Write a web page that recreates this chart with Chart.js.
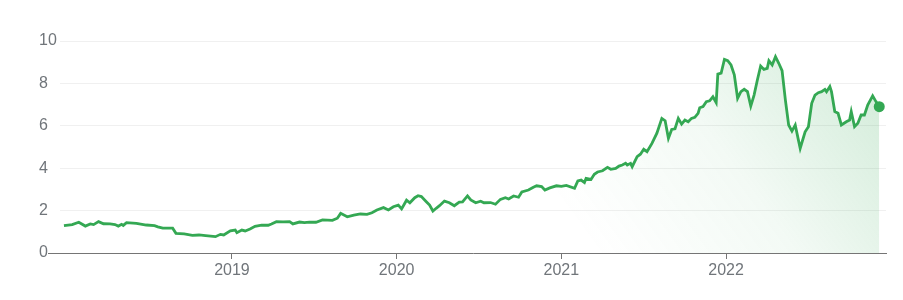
<!DOCTYPE html>
<html>
<head>
<meta charset="utf-8">
<script src="https://cdn.jsdelivr.net/npm/chart.js@4"></script>
<style>
  html, body { margin: 0; padding: 0; background: #fff; }
  #wrap { width: 903px; height: 300px; }
</style>
</head>
<body>
<div id="wrap"><canvas id="myChart"></canvas></div>
<script>
// time as fractional years
const times = [
  2017.98, 2018.03, 2018.07, 2018.11, 2018.14, 2018.16, 2018.19, 2018.22, 2018.26, 2018.29,
  2018.31, 2018.33, 2018.34, 2018.36, 2018.42, 2018.48, 2018.53, 2018.55, 2018.58, 2018.62,
  2018.64, 2018.66, 2018.71, 2018.76, 2018.80, 2018.84, 2018.90, 2018.93, 2018.95, 2018.99,
  2019.02, 2019.03, 2019.06, 2019.08, 2019.11, 2019.14, 2019.18, 2019.22, 2019.24, 2019.27,
  2019.31, 2019.35, 2019.37, 2019.41, 2019.44, 2019.47, 2019.51, 2019.55, 2019.61, 2019.64,
  2019.66, 2019.70, 2019.74, 2019.78, 2019.82, 2019.85, 2019.88, 2019.92, 2019.95, 2019.98,
  2020.01, 2020.03, 2020.06, 2020.08, 2020.11, 2020.13, 2020.15, 2020.18, 2020.20, 2020.22,
  2020.24, 2020.26, 2020.29, 2020.32, 2020.35, 2020.38, 2020.40, 2020.43, 2020.45, 2020.48,
  2020.51, 2020.53, 2020.57, 2020.60, 2020.63, 2020.66, 2020.68, 2020.71, 2020.74, 2020.76,
  2020.80, 2020.83, 2020.85, 2020.88, 2020.90, 2020.93, 2020.97, 2021.00, 2021.03, 2021.08,
  2021.10, 2021.12, 2021.14, 2021.15, 2021.18, 2021.20, 2021.22, 2021.25, 2021.28, 2021.30,
  2021.33, 2021.35, 2021.37, 2021.39, 2021.40, 2021.42, 2021.43, 2021.46, 2021.48, 2021.50,
  2021.52, 2021.55, 2021.58, 2021.61, 2021.63, 2021.65, 2021.67, 2021.69, 2021.71, 2021.73,
  2021.75, 2021.77, 2021.79, 2021.81, 2021.83, 2021.84, 2021.86, 2021.88, 2021.90, 2021.92,
  2021.94, 2021.95, 2021.97, 2021.99, 2022.01, 2022.03, 2022.05, 2022.07, 2022.09, 2022.11,
  2022.13, 2022.15, 2022.17, 2022.19, 2022.21, 2022.23, 2022.25, 2022.26, 2022.28, 2022.30,
  2022.32, 2022.34, 2022.36, 2022.38, 2022.40, 2022.42, 2022.44, 2022.45, 2022.48, 2022.50,
  2022.52, 2022.54, 2022.56, 2022.58, 2022.60, 2022.61, 2022.63, 2022.64, 2022.66, 2022.68,
  2022.70, 2022.73, 2022.75, 2022.76, 2022.78, 2022.80, 2022.82, 2022.84, 2022.86, 2022.89,
  2022.91, 2022.93
];
const prices = [
  1.29, 1.34, 1.45, 1.27, 1.37, 1.34, 1.48, 1.38, 1.37, 1.34,
  1.27, 1.35, 1.30, 1.43, 1.40, 1.32, 1.29, 1.23, 1.17, 1.17,
  1.17, 0.93, 0.90, 0.83, 0.85, 0.82, 0.77, 0.88, 0.85, 1.05,
  1.08, 0.96, 1.08, 1.04, 1.13, 1.26, 1.31, 1.31, 1.37, 1.48,
  1.47, 1.48, 1.37, 1.46, 1.43, 1.46, 1.45, 1.56, 1.54, 1.64,
  1.87, 1.71, 1.79, 1.84, 1.82, 1.90, 2.03, 2.14, 2.03, 2.18,
  2.26, 2.08, 2.49, 2.37, 2.61, 2.70, 2.66, 2.42, 2.26, 1.98,
  2.11, 2.23, 2.45, 2.37, 2.23, 2.40, 2.41, 2.69, 2.50, 2.37,
  2.44, 2.37, 2.38, 2.30, 2.53, 2.61, 2.55, 2.69, 2.63, 2.88,
  2.97, 3.10, 3.17, 3.13, 2.97, 3.07, 3.17, 3.14, 3.19, 3.05,
  3.40, 3.44, 3.32, 3.52, 3.47, 3.71, 3.82, 3.88, 4.04, 3.95,
  3.99, 4.10, 4.15, 4.23, 4.15, 4.23, 4.07, 4.54, 4.66, 4.89,
  4.78, 5.17, 5.65, 6.35, 6.24, 5.41, 5.83, 5.86, 6.35, 6.08,
  6.27, 6.19, 6.35, 6.40, 6.59, 6.85, 6.91, 7.14, 7.18, 7.37,
  7.09, 8.44, 8.48, 9.13, 9.07, 8.87, 8.40, 7.30, 7.61, 7.72,
  7.61, 6.93, 7.45, 8.16, 8.82, 8.66, 8.71, 9.07, 8.87, 9.26,
  8.95, 8.60, 7.22, 6.04, 5.75, 6.04, 5.30, 4.94, 5.72, 5.96,
  7.06, 7.45, 7.56, 7.61, 7.72, 7.61, 7.85, 7.61, 6.67, 6.59,
  6.04, 6.19, 6.27, 6.67, 5.96, 6.12, 6.51, 6.51, 6.98, 7.41,
  7.14, 6.90
];
const yearTicks = [2019, 2020, 2021, 2022];
const yTicks = [0, 2, 4, 6, 8, 10];

const green = 'rgb(52, 168, 83)';
const labelColor = '#70757a';

const points = times.map((t, i) => ({ x: t, y: prices[i] }));

// short piece of the base line left of the plot
const baseLine = {
  id: 'baseLine',
  afterDraw(chart) {
    const ctx = chart.ctx;
    const y = chart.scales.y.getPixelForValue(0);
    ctx.save();
    ctx.strokeStyle = '#757575';
    ctx.lineWidth = 1;
    ctx.beginPath();
    ctx.moveTo(48, y + 0.5);
    ctx.lineTo(chart.chartArea.left, y + 0.5);
    ctx.stroke();
    ctx.restore();
  }
};

var ctx = document.getElementById('myChart').getContext('2d');
var myChart = new Chart(ctx, {
  type: 'line',
  data: {
    datasets: [{
      data: points,
      borderColor: green,
      borderWidth: 2.8,
      tension: 0,
      fill: 'origin',
      backgroundColor: function(context) {
        const area = context.chart.chartArea;
        if (!area) return 'rgba(52,168,83,0)';
        const g = context.chart.ctx.createLinearGradient(area.right, area.top, area.right - 290, area.bottom);
        g.addColorStop(0, 'rgba(52,168,83,0.24)');
        g.addColorStop(0.55, 'rgba(52,168,83,0.06)');
        g.addColorStop(1, 'rgba(52,168,83,0)');
        return g;
      },
      pointRadius: function(c) { return c.dataIndex === points.length - 1 ? 5.5 : 0; },
      pointBackgroundColor: green,
      pointBorderWidth: 0
    }]
  },
  options: {
    responsive: true,
    maintainAspectRatio: false,
    animation: false,
    layout: { padding: { left: 39, right: 17, top: 41, bottom: 0 } },
    plugins: { legend: { display: false }, tooltip: { enabled: false } },
    scales: {
      x: {
        type: 'linear',
        min: 2017.956,
        max: 2022.971,
        afterBuildTicks: function(axis) { axis.ticks = yearTicks.map(v => ({ value: v })); },
        afterFit: function(axis) { axis.height = 47; },
        grid: { drawOnChartArea: false, drawTicks: true, tickLength: 6, tickColor: '#757575' },
        border: { display: true, color: '#757575', width: 1 },
        ticks: {
          padding: 2,
          color: labelColor,
          font: { family: 'Arial, "Liberation Sans", sans-serif', size: 16 },
          callback: function(v) { return String(v); }
        }
      },
      y: {
        min: 0,
        max: 10,
        afterBuildTicks: function(axis) { axis.ticks = yTicks.map(v => ({ value: v })); },
        afterFit: function(axis) { axis.width = 21; },
        grid: { color: '#f0f0f0', drawTicks: false },
        border: { display: false },
        ticks: {
          crossAlign: 'far',
          padding: 0,
          color: labelColor,
          font: { family: 'Arial, "Liberation Sans", sans-serif', size: 16 }
        }
      }
    }
  },
  plugins: [baseLine]
});
</script>
</body>
</html>
